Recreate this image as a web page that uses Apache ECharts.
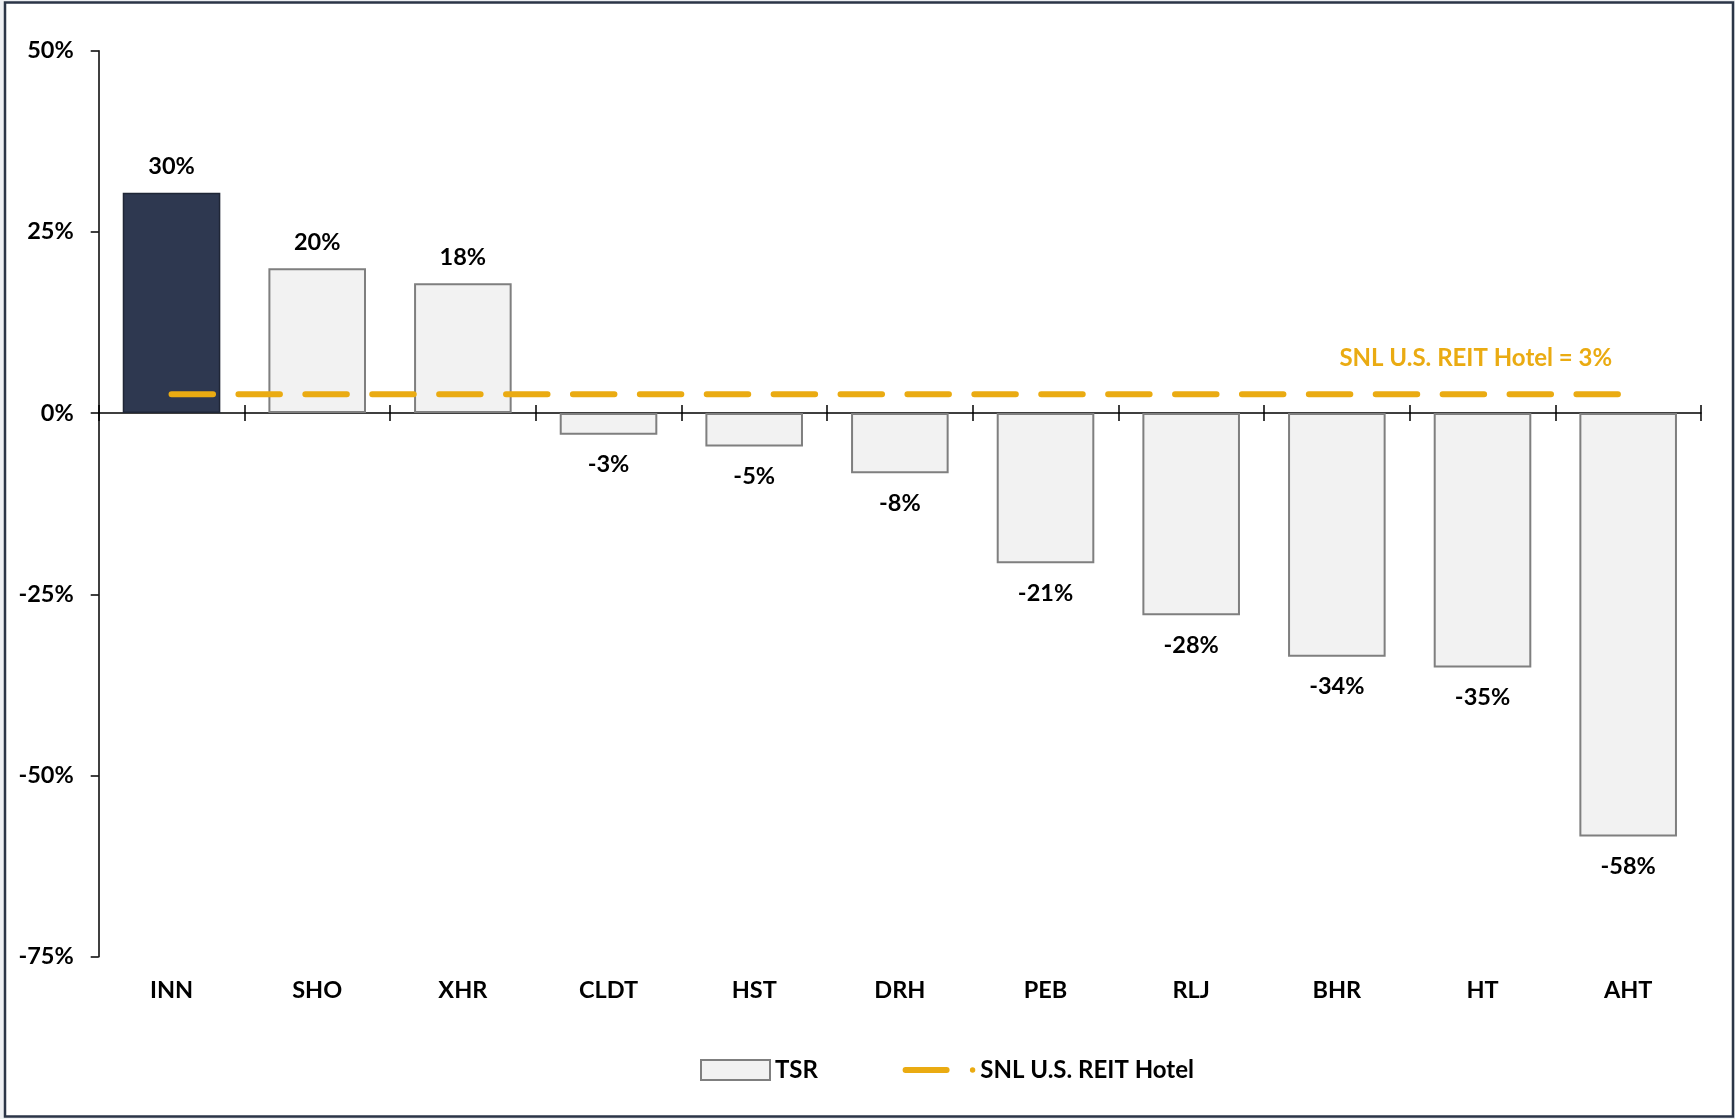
<!DOCTYPE html>
<html>
<head>
<meta charset="utf-8">
<script src="https://cdn.jsdelivr.net/npm/echarts@6/dist/echarts.min.js"></script>
<style>
  html, body { margin: 0; padding: 0; background: #eef0f3; }
  #chart { width: 1735px; height: 1119px; }
</style>
</head>
<body>
<div id="chart"></div>
<script>
// tickers, ordered by TSR
const categories = ['INN', 'SHO', 'XHR', 'CLDT', 'HST', 'DRH', 'PEB', 'RLJ', 'BHR', 'HT', 'AHT'];
// total shareholder return, %
const tsr = [30.4, 20.0, 17.9, -3.0, -4.6, -8.3, -20.7, -27.9, -33.6, -35.1, -58.4];
// index benchmark, %
const indexName = 'SNL U.S. REIT Hotel';
const indexValue = 2.6;
const yTicks = { min: -75, max: 50, interval: 25 };

const gold = '#EAAB12';
const navy = '#2E3850';
const font = 'Lato, "Open Sans", sans-serif';
const labelSize = 23.5;
const axisColor = { color: '#000', width: 1.5 };

const chart = echarts.init(document.getElementById('chart'));

const barData = tsr.map((v, i) => {
  const item = {
    value: v,
    label: v < 0 ? { position: 'bottom', distance: 18 } : { position: 'top', distance: 14 },
  };
  // the company itself is highlighted
  if (i === 0) {
    item.itemStyle = { color: navy, borderColor: '#1f2636', borderWidth: 1.5 };
  }
  return item;
});

const indexLine = categories.map(() => indexValue);

const option = {
  backgroundColor: '#eef0f3',
  animation: false,
  textStyle: { fontFamily: font },
  graphic: [
    {
      type: 'rect',
      z: -10,
      silent: true,
      shape: { x: 5, y: 2.5, width: 1728, height: 1114 },
      style: { fill: '#fff', stroke: '#2b3547', lineWidth: 2.5 },
    },
  ],
  grid: {
    left: 98.7,
    right: 34,
    top: 50.7,
    bottom: 162.3,
    containLabel: false,
    outerBoundsMode: 'none',
  },
  legend: [
    {
      left: 700,
      top: 1058,
      padding: 0,
      itemWidth: 69,
      itemHeight: 20,
      textStyle: { fontFamily: font, fontWeight: 'bold', fontSize: 24, color: '#000' },
      data: [{ name: 'TSR', icon: 'rect' }],
    },
    {
      left: 902.6,
      top: 1058,
      padding: 0,
      itemWidth: 72.7,
      itemHeight: 6,
      textStyle: { fontFamily: font, fontWeight: 'bold', fontSize: 24, color: '#000' },
      data: [
        {
          name: indexName,
          icon: 'path://M3,0L44,0A3,3,0,0,1,44,6L3,6A3,3,0,0,1,3,0ZM70,0.3A2.7,2.7,0,1,1,70,5.7A2.7,2.7,0,1,1,70,0.3Z',
          itemStyle: { color: gold, borderWidth: 0 },
        },
      ],
    },
  ],
  xAxis: [
    {
      // category names along the bottom of the plot
      type: 'category',
      position: 'bottom',
      data: categories,
      axisLine: { show: false, onZero: false },
      axisTick: { show: false },
      axisLabel: {
        margin: 22,
        fontFamily: font,
        fontWeight: 'bold',
        fontSize: labelSize,
        color: '#000',
      },
      splitLine: { show: false },
    },
    {
      // zero line with ticks pointing up
      type: 'category',
      position: 'top',
      data: categories,
      axisLine: { onZero: true, onZeroAxisIndex: 0, lineStyle: axisColor },
      axisTick: { show: true, length: 8, lineStyle: axisColor },
      axisLabel: { show: false },
      splitLine: { show: false },
    },
    {
      // same zero line, ticks pointing down
      type: 'category',
      position: 'top',
      data: categories,
      axisLine: { show: false, onZero: true, onZeroAxisIndex: 0 },
      axisTick: { show: true, inside: true, length: 8, lineStyle: axisColor },
      axisLabel: { show: false },
      splitLine: { show: false },
    },
  ],
  yAxis: {
    type: 'value',
    min: yTicks.min,
    max: yTicks.max,
    interval: yTicks.interval,
    axisLine: { show: true, lineStyle: axisColor },
    axisTick: { show: true, length: 8, lineStyle: axisColor },
    splitLine: { show: false },
    axisLabel: {
      margin: 25,
      fontFamily: font,
      fontWeight: 'bold',
      fontSize: labelSize,
      color: '#000',
      formatter: '{value}%',
    },
  },
  series: [
    {
      name: 'TSR',
      type: 'bar',
      xAxisIndex: 0,
      barWidth: '67%',
      data: barData,
      itemStyle: { color: '#f2f2f2', borderColor: '#7f7f7f', borderWidth: 2 },
      label: {
        show: true,
        fontFamily: font,
        fontWeight: 'bold',
        fontSize: labelSize,
        color: '#000',
        formatter: p => Math.round(p.value) + '%',
      },
    },
    {
      name: indexName,
      type: 'line',
      xAxisIndex: 0,
      data: indexLine,
      symbol: 'circle',
      symbolSize: 0,
      showSymbol: true,
      itemStyle: { color: gold },
      lineStyle: { color: gold, width: 6, type: [41.5, 25.4], cap: 'round' },
      label: {
        show: true,
        position: 'top',
        distance: 24,
        align: 'right',
        offset: [-16, 0],
        fontFamily: font,
        fontWeight: 'bold',
        fontSize: 24,
        color: gold,
        formatter: p => (p.dataIndex === categories.length - 1
          ? indexName + ' = ' + Math.round(indexValue) + '%'
          : ''),
      },
      z: 3,
    },
  ],
};

chart.setOption(option);
</script>
</body>
</html>
